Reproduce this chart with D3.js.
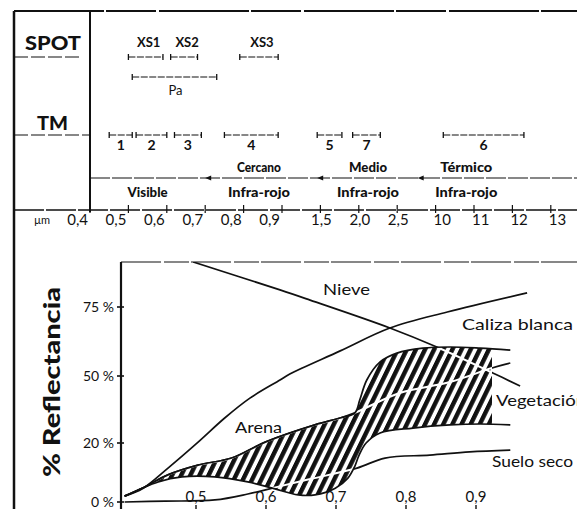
<!DOCTYPE html>
<html><head><meta charset="utf-8">
<script src="https://cdn.jsdelivr.net/npm/d3@7"></script>
<style>
html,body{margin:0;padding:0;background:#fff;}
svg{display:block;}
text{font-family:Lato,"Noto Sans",sans-serif;fill:#111;}
</style></head><body>
<svg id="c" width="577" height="509"></svg>
<script>
// ---------------- data ----------------
const scaleTicks = [0.4,0.5,0.6,0.7,0.8,0.9,1.5,2.0,2.5,10,11,12,13];
const scaleTickLabels = ["0,4","0,5","0,6","0,7","0,8","0,9","1,5","2,0","2,5","10","11","12","13"];

const spotBands = ["XS1","XS2","XS3"];
const spotStart = [0.50,0.61,0.79];
const spotEnd   = [0.59,0.68,0.89];
const panBands = ["Pa"];
const panStart = [0.51];
const panEnd   = [0.73];

const tmBands = ["1","2","3","4","5","7","6"];
const tmStart = [0.45,0.52,0.62,0.75,1.45,1.92,10.2];
const tmEnd   = [0.51,0.60,0.69,0.89,1.78,2.28,12.3];

const regionBounds = [0.7,1.45,6.5];
const regionTop    = ["","Cercano","Medio","Térmico"];
const regionBottom = ["Visible","Infra-rojo","Infra-rojo","Infra-rojo"];
const regionCenter = [0.55,0.84,2.12,10.8];

const xTicks = [0.5,0.6,0.7,0.8,0.9];
const xTickLabels = ["0,5","0,6","0,7","0,8","0,9"];
const yTicks = [0,20,50,75];
const yTickLabels = ["0 %","20 %","50 %","75 %"];

// reflectance curves: [wavelength µm, reflectance %]
const nieve  = [[0.496,91.3],[0.62,81.2],[0.663,77.5],[0.777,67.4],[0.844,60.5],[0.924,51.1],[0.963,45.5]];
const caliza = [[0.398,2.0],[0.424,4.6],[0.46,11.5],[0.503,20.4],[0.541,31.2],[0.577,40.1],[0.62,48.2],[0.634,50.7],[0.706,59.1],[0.777,67.4],[0.859,73.2],[0.973,80.1]];
const arena  = [[0.398,2.0],[0.427,5.1],[0.46,9.2],[0.503,12.5],[0.551,14.9],[0.599,20.4],[0.67,28.1],[0.706,31.2],[0.727,33.5],[0.791,42.4],[0.863,47.3],[0.923,52.9],[0.949,54.7]];
const vegSup = [[0.398,2.0],[0.427,5.1],[0.46,9.2],[0.503,12.5],[0.551,14.9],[0.599,20.4],[0.67,28.1],[0.706,31.2],[0.727,33.5],[0.734,39.3],[0.744,48.2],[0.763,55.1],[0.787,58.3],[0.824,60.1],[0.863,60.5],[0.906,60.1],[0.949,59.4]];
const vegInf = [[0.398,2.0],[0.446,6.8],[0.48,8.5],[0.527,8.5],[0.574,6.8],[0.609,4.7],[0.646,2.4],[0.67,2.4],[0.699,4.7],[0.717,8.1],[0.727,12.2],[0.733,15.9],[0.743,20.0],[0.763,24.5],[0.81,26.7],[0.863,28.1],[0.906,28.5],[0.949,28.1]];
const suelo  = [[0.398,0],[0.456,0.3],[0.527,0.7],[0.574,2.7],[0.609,4.7],[0.66,7.6],[0.73,11.5],[0.77,14.9],[0.834,15.9],[0.891,17.0],[0.949,17.6]];
const vegHatchEnd = 0.923;

// ---------------- drawing ----------------
const W = 577, H = 509;
const svg = d3.select("#c");
const ink = "#111";

function ln(x1,y1,x2,y2,w,dash){
  const l = svg.append("line").attr("x1",x1).attr("y1",y1).attr("x2",x2).attr("y2",y2)
    .attr("stroke",ink).attr("stroke-width",w||1.2);
  if(dash) l.attr("stroke-dasharray",dash);
  return l;
}

// frame
ln(14,11,W,11,1.8,"90,2,50,3");
ln(14,11,14,H,2.5);
ln(90,11,90,212,2);
ln(14,57,82,57,1.1,"14,3");
ln(14,135,90,135,1.1,"14,3");
ln(90,178,W,178,1.1,"20,2");
ln(14,210,W,210,1.3,"30,2");

// top wavelength scale
const pt = d3.scalePoint().domain(scaleTickLabels).range([90, 550.8]);
const sx = d3.scaleLinear().domain(scaleTicks).range(scaleTickLabels.map(l => pt(l)));

scaleTicks.forEach((t,i)=>{
  ln(sx(t),205,sx(t),213,1.2);
  let anchor = "middle", dx = 1;
  if (t < 1) { anchor = "end"; dx = -2; }
  else if (t >= 10) { anchor = "start"; dx = -2; }
  svg.append("text").attr("x",sx(t)+dx).attr("y",225).attr("text-anchor",anchor)
    .attr("font-size",15).text(scaleTickLabels[i]);
});
svg.append("text").attr("x",42).attr("y",224).attr("text-anchor","middle").attr("font-size",11).text("µm");

function band(a,b,y){
  const x0 = sx(a), x1 = sx(b);
  ln(x0,y,x1,y,1.2,"7,1.5");
  ln(x0,y-3,x0,y+3,1.3);
  ln(x1,y-3,x1,y+3,1.3);
  return (x0+x1)/2;
}

// SPOT
svg.append("text").attr("x",25).attr("y",50).attr("font-size",19).attr("font-weight",900)
  .attr("textLength",56).attr("lengthAdjust","spacingAndGlyphs").text("SPOT");
spotBands.forEach((b,i)=>{
  const c = band(spotStart[i],spotEnd[i],57);
  svg.append("text").attr("x",c+3).attr("y",47).attr("text-anchor","middle")
    .attr("font-size",13).attr("font-weight",700).text(b);
});
panBands.forEach((b,i)=>{
  const c = band(panStart[i],panEnd[i],77);
  svg.append("text").attr("x",c+1).attr("y",95).attr("text-anchor","middle")
    .attr("font-size",13).text(b);
});

// TM
svg.append("text").attr("x",37).attr("y",130).attr("font-size",19).attr("font-weight",900)
  .attr("textLength",31).attr("lengthAdjust","spacingAndGlyphs").text("TM");
tmBands.forEach((b,i)=>{
  const c = band(tmStart[i],tmEnd[i],135);
  svg.append("text").attr("x",c).attr("y",150).attr("text-anchor","middle")
    .attr("font-size",14).attr("font-weight",700).text(b);
});

// spectral regions
regionBounds.forEach(b=>{
  const x = sx(b);
  svg.append("path").attr("d",`M${x},178 l6,-2.5 l0,5 Z`).attr("fill",ink);
});
const topW = {"Cercano":44,"Medio":38,"Térmico":52};
const botW = {"Visible":40,"Infra-rojo":62};
regionCenter.forEach((c,i)=>{
  const x = sx(c);
  if (regionTop[i]) svg.append("text").attr("x",x).attr("y",172).attr("text-anchor","middle")
    .attr("font-size",13).attr("font-weight",900)
    .attr("textLength",topW[regionTop[i]]).attr("lengthAdjust","spacingAndGlyphs").text(regionTop[i]);
  svg.append("text").attr("x",x).attr("y",197).attr("text-anchor","middle")
    .attr("font-size",14).attr("font-weight",900)
    .attr("textLength",botW[regionBottom[i]]).attr("lengthAdjust","spacingAndGlyphs").text(regionBottom[i]);
});

// ---------------- reflectance chart ----------------
const x = d3.scaleLinear().domain([0.4,0.9]).range([126,476]);
const y = d3.scaleLinear().domain([0,20,50,75]).range([502,443,376,307]);
const plotL = 121, plotT = 262;

const defs = svg.append("defs");
defs.append("clipPath").attr("id","plot").append("rect")
  .attr("x",plotL).attr("y",plotT).attr("width",W-plotL).attr("height",H-plotT);
defs.append("clipPath").attr("id","hatchEnd").append("rect")
  .attr("x",plotL).attr("y",plotT).attr("width",x(vegHatchEnd)-plotL).attr("height",H-plotT);
const pat = defs.append("pattern").attr("id","hatch").attr("patternUnits","userSpaceOnUse")
  .attr("width",8.2).attr("height",8.2).attr("patternTransform","rotate(26)");
pat.append("rect").attr("width",8.2).attr("height",8.2).attr("fill","#fff");
pat.append("rect").attr("x",0).attr("width",4.4).attr("height",8.2).attr("fill",ink);

const line = d3.line().x(d=>x(d[0])).y(d=>y(d[1])).curve(d3.curveCatmullRom.alpha(0.5));
const hatchPath = line(vegSup) + line(vegInf.slice().reverse()).replace(/^M/,"L") + "Z";
defs.append("clipPath").attr("id","hatchShape").append("path").attr("d",hatchPath);

// y axis
ln(plotL,plotT,plotL,H,2.2);
ln(plotL,plotT,W,plotT,1.2,"40,3,25,2");
yTicks.forEach((t,i)=>{
  ln(plotL-4,y(t),plotL+3,y(t),1.6);
  svg.append("text").attr("x",114).attr("y",y(t)).attr("dy","0.35em").attr("text-anchor","end")
    .attr("font-size",14).attr("font-family","'Liberation Serif',serif").text(yTickLabels[i]);
});
svg.append("text").attr("transform","translate(51,382) rotate(-90)").attr("text-anchor","middle")
  .attr("dominant-baseline","central").attr("font-size",22).attr("font-weight",900)
  .attr("textLength",190).attr("lengthAdjust","spacingAndGlyphs").text("% Reflectancia");

// x ticks
xTicks.forEach((t,i)=>{
  ln(x(t),505,x(t),509,1.4);
  svg.append("text").attr("x",x(t)).attr("y",502).attr("text-anchor","middle")
    .attr("font-size",15).text(xTickLabels[i]);
});

const g = svg.append("g").attr("clip-path","url(#plot)");
[nieve, caliza, arena, suelo].forEach(c=>{
  g.append("path").attr("d",line(c)).attr("fill","none").attr("stroke",ink).attr("stroke-width",1.7);
});
// hatched vegetation area
g.append("g").attr("clip-path","url(#hatchEnd)")
  .append("path").attr("d",hatchPath).attr("fill","url(#hatch)").attr("stroke","none");
// curves crossing the hatched area show as white gaps
const inner = g.append("g").attr("clip-path","url(#hatchEnd)").append("g").attr("clip-path","url(#hatchShape)");
[nieve, arena, suelo].forEach(c=>{
  inner.append("path").attr("d",line(c)).attr("fill","none").attr("stroke","#fff").attr("stroke-width",2);
});
[vegSup, vegInf].forEach(c=>{
  g.append("path").attr("d",line(c)).attr("fill","none").attr("stroke",ink).attr("stroke-width",1.7);
});

// curve labels
function lab(t,xx,yy,len){
  const e = svg.append("text").attr("x",xx).attr("y",yy).attr("font-size",16).text(t);
  if(len) e.attr("textLength",len).attr("lengthAdjust","spacingAndGlyphs");
}
lab("Nieve",323,295,47);
lab("Caliza blanca",462,330,111);
lab("Vegetación",496,406,90);
lab("Arena",235,433,47);
lab("Suelo seco",492,467,81);
</script>
</body></html>
